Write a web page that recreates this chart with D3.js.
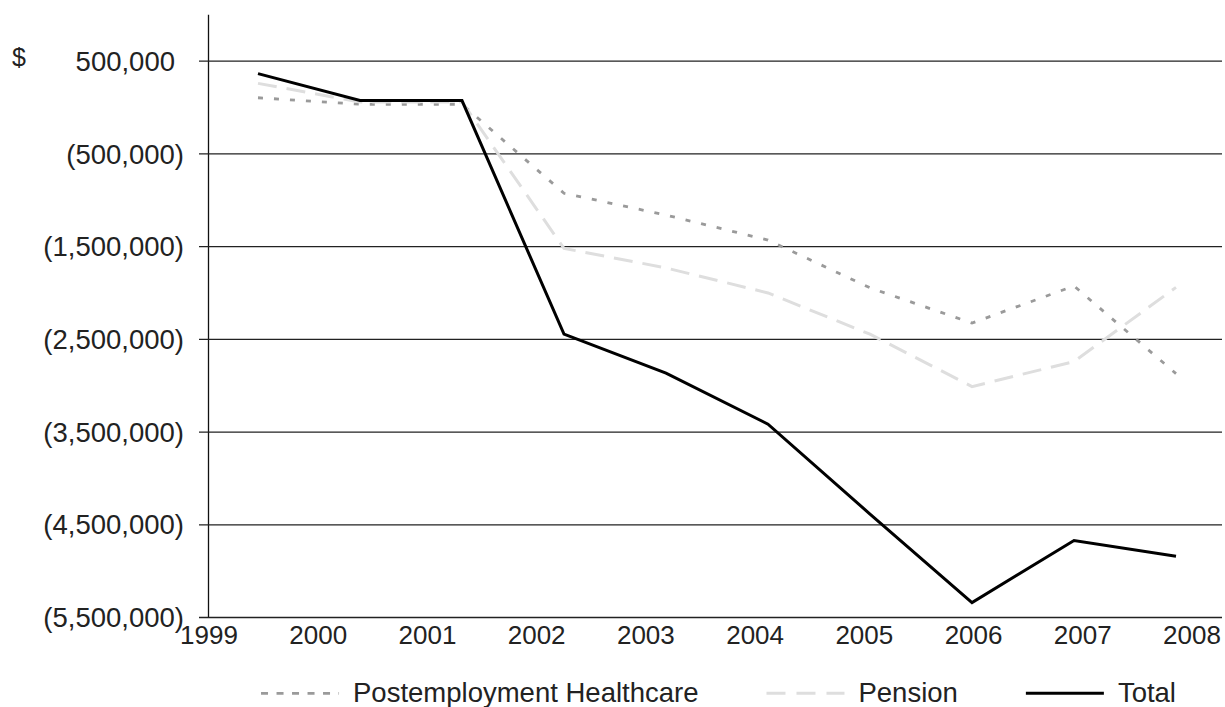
<!DOCTYPE html>
<html>
<head>
<meta charset="utf-8">
<script src="https://cdn.jsdelivr.net/npm/d3@7"></script>
<style>
  html, body { margin: 0; padding: 0; background: #fff; }
  svg { display: block; }
  text { font-family: "Liberation Sans", Arial, Helvetica, sans-serif; fill: #222; }
</style>
</head>
<body>
<svg id="chart" width="1225" height="707"></svg>
<script>
// Funded status by year, in dollars
const years = ["1999", "2000", "2001", "2002", "2003", "2004", "2005", "2006", "2007", "2008"];
const healthcare = [100000, 30000, 30000, -930000, -1165000, -1435000, -1950000, -2330000, -1930000, -2875000];
const pension = [255000, 55000, 55000, -1525000, -1735000, -2005000, -2450000, -3015000, -2745000, -1945000];
const total = [360000, 70000, 70000, -2450000, -2870000, -3420000, -4390000, -5345000, -4675000, -4845000];

const yTicks = [500000, -500000, -1500000, -2500000, -3500000, -4500000, -5500000];
const xTickLabels = ["1999", "2000", "2001", "2002", "2003", "2004", "2005", "2006", "2007", "2008"];
const seriesNames = ["Postemployment Healthcare", "Pension", "Total"];

const svg = d3.select("#chart");
const W = 1225, H = 707;
const plot = { left: 208, right: 1222, top: 14.3, bottom: 617 };

svg.append("rect").attr("width", W).attr("height", H).attr("fill", "#fff");

const y = d3.scaleLinear().domain([-5500000, 1000000]).range([plot.bottom, plot.top]);
const x = d3.scalePoint().domain(years).range([258, 1176]);
const xLabel = d3.scalePoint().domain(xTickLabels).range([209, 1192]);

const fmt = d3.format(",");
const acct = v => v < 0 ? "(" + fmt(-v) + ")" : fmt(v);

// Y axis with gridlines running across the plot
const yAxis = svg.append("g")
  .attr("transform", `translate(${plot.left},0)`)
  .call(d3.axisLeft(y).tickValues(yTicks).tickSizeOuter(0).tickFormat(acct));

yAxis.select(".domain").attr("stroke", "#111").attr("stroke-width", 1.3);
yAxis.selectAll(".tick line")
  .attr("x1", -9).attr("x2", plot.right - plot.left)
  .attr("stroke", "#222").attr("stroke-width", 1.3);
yAxis.selectAll(".tick text")
  .attr("x", d => d < 0 ? -24 : -33)
  .attr("dy", "0.35em")
  .attr("text-anchor", "end")
  .style("font-size", "27.5px")
  .style("font-family", "'Liberation Sans', Arial, Helvetica, sans-serif")
  .attr("fill", "#222");

svg.append("text")
  .attr("x", 12).attr("y", 66)
  .style("font-size", "25px")
  .text("$");

// X tick labels
svg.append("g").selectAll("text")
  .data(xTickLabels)
  .join("text")
  .attr("x", d => xLabel(d))
  .attr("y", 643.5)
  .attr("text-anchor", "middle")
  .style("font-size", "26px")
  .text(d => d);

// Series
const styles = [
  { name: seriesNames[0], values: healthcare, color: "#9a9a9a", width: 2.8, dash: "5,11", legendDash: "7,8.5" },
  { name: seriesNames[1], values: pension, color: "#dedede", width: 3, dash: "19,10", legendDash: "19,11" },
  { name: seriesNames[2], values: total, color: "#000", width: 3, dash: null, legendDash: null }
];

const line = d3.line()
  .x((d, i) => x(years[i]))
  .y(d => y(d));

svg.append("g").selectAll("path")
  .data(styles)
  .join("path")
  .attr("d", s => line(s.values))
  .attr("fill", "none")
  .attr("stroke", s => s.color)
  .attr("stroke-width", s => s.width)
  .attr("stroke-linejoin", "miter")
  .attr("stroke-dasharray", s => s.dash);

// Legend, laid out left to right and centred under the plot
const legend = svg.append("g");
const swatchLen = 78, swatchGap = 14, itemGap = 68, legendY = 693.3;
const items = legend.selectAll("g").data(styles).join("g");
items.append("line")
  .attr("x1", 0).attr("x2", swatchLen)
  .attr("y1", legendY).attr("y2", legendY)
  .attr("stroke", s => s.color)
  .attr("stroke-width", s => s.width)
  .attr("stroke-dasharray", s => s.legendDash);
items.append("text")
  .attr("x", swatchLen + swatchGap)
  .attr("y", 701.5)
  .style("font-size", "27.5px")
  .text(s => s.name);

let offset = 0;
const widths = [];
items.each(function () {
  const w = swatchLen + swatchGap + d3.select(this).select("text").node().getComputedTextLength();
  widths.push(w);
});
const totalW = d3.sum(widths) + itemGap * (widths.length - 1);
offset = 718.5 - totalW / 2;
items.each(function (d, i) {
  d3.select(this).attr("transform", `translate(${offset},0)`);
  offset += widths[i] + itemGap;
});
</script>
</body>
</html>
